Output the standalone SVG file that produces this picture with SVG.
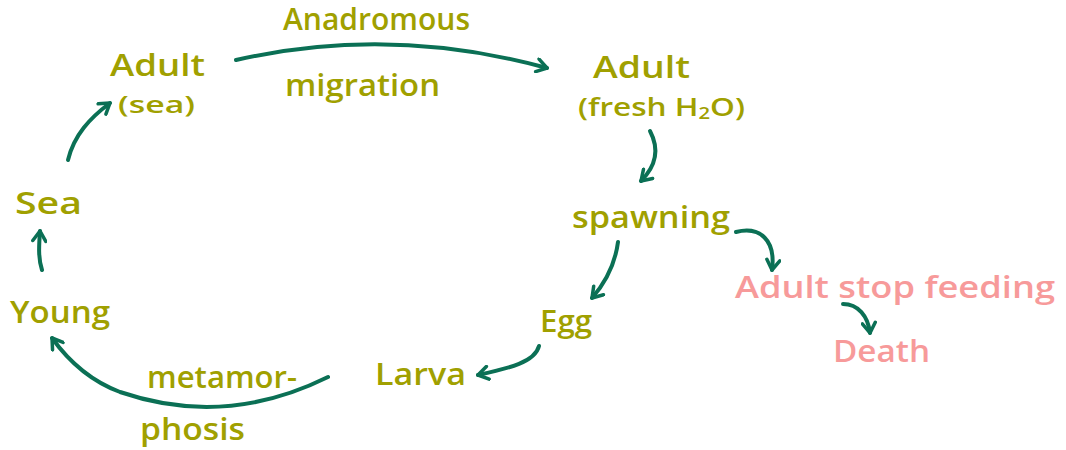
<svg xmlns="http://www.w3.org/2000/svg" width="1066" height="450" viewBox="0 0 1066 450">
  <defs>
    <style>
      .t { font-family: "Open Sans", "Liberation Sans", sans-serif; font-weight: 600; font-size: 30px; fill: #a0a000; }
      .p { fill: #f79a9a; }
      .c { fill: none; stroke: #0b7055; stroke-width: 4; stroke-linecap: round; }
    </style>
    <marker id="ah" viewBox="0 0 16 16" refX="13" refY="8" markerWidth="16" markerHeight="16" markerUnits="userSpaceOnUse" orient="auto">
      <path d="M3,1.5 L13,8 L3,14.5" fill="none" stroke="#0b7055" stroke-width="3.5" stroke-linecap="round" stroke-linejoin="round"/>
    </marker>
  </defs>
  <rect width="1066" height="450" fill="#ffffff"/>

  <g id="connectors">
    <path class="c" d="M236,60 Q390,25 547,68" marker-end="url(#ah)"/>
    <path class="c" d="M650,131 C660,150 656,166 641,181" marker-end="url(#ah)"/>
    <path class="c" d="M618,242 C615,265 606,282 592,298" marker-end="url(#ah)"/>
    <path class="c" d="M539,346 C535,362 510,368 478,375" marker-end="url(#ah)"/>
    <path class="c" d="M328,377 Q225,428 120,392 Q80,377 52,338" marker-end="url(#ah)"/>
    <path class="c" d="M42,270 C38,258 39,245 40,231" marker-end="url(#ah)"/>
    <path class="c" d="M68,160 C74,135 90,118 110,103" marker-end="url(#ah)"/>
    <path class="c" d="M736,232 C760,226 776,240 772,270" marker-end="url(#ah)"/>
    <path class="c" d="M843,304 C858,304 868,316 870,333" marker-end="url(#ah)"/>
  </g>

  <g id="adult-sea">
    <text class="t" x="110" y="76" textLength="95" lengthAdjust="spacingAndGlyphs">Adult</text>
    <text class="t" x="118" y="113" style="font-size:24px" textLength="77" lengthAdjust="spacingAndGlyphs">(sea)</text>
  </g>
  <g id="migration-label">
    <text class="t" x="283" y="30" textLength="187" lengthAdjust="spacingAndGlyphs">Anadromous</text>
    <text class="t" x="285" y="96" textLength="155" lengthAdjust="spacingAndGlyphs">migration</text>
  </g>
  <g id="adult-fresh">
    <text class="t" x="593" y="78" textLength="97" lengthAdjust="spacingAndGlyphs">Adult</text>
    <text class="t" x="578" y="116" style="font-size:25px" textLength="167" lengthAdjust="spacingAndGlyphs">(fresh H<tspan style="font-size:16px" dy="3">2</tspan><tspan dy="-3">O)</tspan></text>
  </g>
  <g id="spawning">
    <text class="t" x="572" y="228" textLength="158" lengthAdjust="spacingAndGlyphs">spawning</text>
  </g>
  <g id="egg">
    <text class="t" x="540" y="332" textLength="52" lengthAdjust="spacingAndGlyphs">Egg</text>
  </g>
  <g id="larva">
    <text class="t" x="375" y="385" textLength="91" lengthAdjust="spacingAndGlyphs">Larva</text>
  </g>
  <g id="metamorphosis-label">
    <text class="t" x="147" y="388" textLength="150" lengthAdjust="spacingAndGlyphs">metamor-</text>
    <text class="t" x="140" y="440" textLength="105" lengthAdjust="spacingAndGlyphs">phosis</text>
  </g>
  <g id="young">
    <text class="t" x="10" y="323" textLength="100" lengthAdjust="spacingAndGlyphs">Young</text>
  </g>
  <g id="sea">
    <text class="t" x="15" y="214" textLength="67" lengthAdjust="spacingAndGlyphs">Sea</text>
  </g>
  <g id="adult-stop-feeding">
    <text class="t p" x="735" y="298" textLength="320" lengthAdjust="spacingAndGlyphs">Adult stop feeding</text>
  </g>
  <g id="death">
    <text class="t p" x="833" y="362" textLength="97" lengthAdjust="spacingAndGlyphs">Death</text>
  </g>
</svg>
